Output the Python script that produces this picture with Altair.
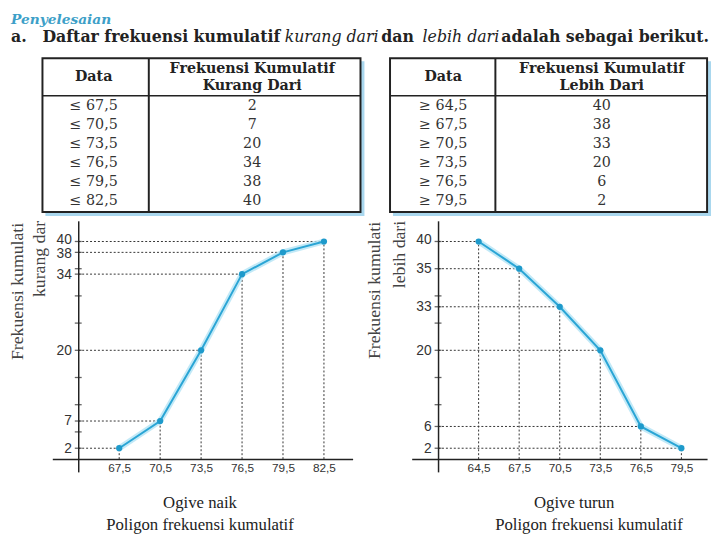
import altair as alt
import pandas as pd

# ---------------- data ----------------
# tables
tbl_data_kurang = ["≤ 67,5", "≤ 70,5", "≤ 73,5", "≤ 76,5", "≤ 79,5", "≤ 82,5"]
tbl_fk_kurang = [2, 7, 20, 34, 38, 40]
tbl_data_lebih = ["≥ 64,5", "≥ 67,5", "≥ 70,5", "≥ 73,5", "≥ 76,5", "≥ 79,5"]
tbl_fk_lebih = [40, 38, 33, 20, 6, 2]

# ogive naik (as drawn)
x_naik = [67.5, 70.5, 73.5, 76.5, 79.5, 82.5]
y_naik = [2, 7, 20, 34, 38, 40]
ylab_naik = ["2", "7", "20", "34", "38", "40"]
ticks_naik = [2, 5, 7, 10, 15, 20, 25, 30, 34, 35, 38, 40]

# ogive turun (as drawn: point heights, labels as printed)
x_turun = [64.5, 67.5, 70.5, 73.5, 76.5, 79.5]
y_turun = [40, 35, 28, 20, 6, 2]
ylab_turun = ["40", "35", "33", "20", "6", "2"]
ticks_turun = [2, 6, 10, 15, 20, 25, 28, 30, 35, 40]

header_parts = ["a.", "Daftar frekuensi kumulatif", "kurang dari", "dan", "lebih dari",
                "adalah sebagai berikut."]
header_italic = [False, False, True, False, True, False]
header_x = [0, 32, 278, 376, 418, 498]

SERIF = "Liberation Serif"
WIDE_SERIF = "DejaVu Serif"
SANS = "Liberation Sans"
one = pd.DataFrame({"k": [0]})


def spacer(w, h):
    return alt.Chart(one).mark_text(text="").properties(width=w, height=h)


# ---------------- header ----------------
hdr_layers = [
    alt.Chart(one).mark_text(align="left", baseline="top", font=WIDE_SERIF, fontSize=14,
                             fontStyle="italic", fontWeight="bold", color="#3d9fc8").encode(
        x=alt.value(0), y=alt.value(0), text=alt.value("Penyelesaian"))
]
for txt, it, px in zip(header_parts, header_italic, header_x):
    hdr_layers.append(
        alt.Chart(one).mark_text(align="left", baseline="middle", font=WIDE_SERIF, fontSize=16,
                                 fontStyle="italic" if it else "normal",
                                 fontWeight="normal" if it else "bold", color="#222").encode(
            x=alt.value(px), y=alt.value(24), text=alt.value(txt)))
header = alt.layer(*hdr_layers).properties(width=704, height=40)


# ---------------- tables ----------------
def table(data_col, fk_col, head2, w, h, xc1, xc2, xdiv):
    df = pd.DataFrame({"i": list(range(len(data_col))), "d": data_col,
                       "f": [str(v) for v in fk_col]})
    first, step = 48.5, 19.2
    yscale = alt.Scale(domain=[-first / step, (h - first) / step], reverse=True, nice=False, zero=False)
    shadow = alt.Chart(one).mark_rect(color="#a9d7ee").encode(
        x=alt.value(3), x2=alt.value(w + 4), y=alt.value(3), y2=alt.value(h + 4))
    box = alt.Chart(one).mark_rect(fill="white", stroke="#222", strokeWidth=2).encode(
        x=alt.value(0), x2=alt.value(w), y=alt.value(0), y2=alt.value(h))
    hsep = alt.Chart(one).mark_rule(color="#222", strokeWidth=1.5).encode(
        x=alt.value(0), x2=alt.value(w), y=alt.value(38))
    vsep = alt.Chart(one).mark_rule(color="#222", strokeWidth=2).encode(
        x=alt.value(xdiv), y=alt.value(0), y2=alt.value(h))
    hstyle = dict(font=WIDE_SERIF, fontSize=14.5, fontWeight="bold", color="#222", baseline="middle")
    h1 = alt.Chart(one).mark_text(**hstyle).encode(x=alt.value(xc1), y=alt.value(19), text=alt.value("Data"))
    h2 = alt.Chart(one).mark_text(**hstyle).encode(x=alt.value(xc2), y=alt.value(11),
                                                   text=alt.value("Frekuensi Kumulatif"))
    h3 = alt.Chart(one).mark_text(**hstyle).encode(x=alt.value(xc2), y=alt.value(28), text=alt.value(head2))
    rstyle = dict(font=WIDE_SERIF, fontSize=14.5, color="#333", baseline="middle")
    c1 = alt.Chart(df).mark_text(**rstyle).encode(
        x=alt.value(xc1), y=alt.Y("i:Q", scale=yscale, axis=None), text="d:N")
    c2 = alt.Chart(df).mark_text(**rstyle).encode(
        x=alt.value(xc2), y=alt.Y("i:Q", scale=yscale, axis=None), text="f:N")
    return alt.layer(shadow, box, hsep, vsep, h1, h2, h3, c1, c2).properties(width=w, height=h)


tblL = table(tbl_data_kurang, tbl_fk_kurang, "Kurang Dari", 323, 156, 52, 213, 108)
tblR = table(tbl_data_lebih, tbl_fk_lebih, "Lebih Dari", 322, 156, 54, 215, 107)


# ---------------- ogives ----------------
def label_expr(vals, labs):
    e = "datum.label"
    for v, l in zip(vals, labs):
        e = f"datum.value == {v} ? '{l}' : ({e})"
    return e


def ogive(xs, ys, ylabs, ticks, axis_x, xdom, ydom, w, h, titles, title_pos, captions, cap_pos):
    df = pd.DataFrame({"x": xs, "y": ys, "ax": [axis_x] * len(xs), "zero": [0] * len(xs)})
    xs_ = alt.Scale(domain=xdom, nice=False, zero=False)
    ys_ = alt.Scale(domain=ydom, nice=False, zero=False)
    x_off = -(axis_x - xdom[0]) / (xdom[1] - xdom[0]) * w
    y_off = -(0 - ydom[0]) / (ydom[1] - ydom[0]) * h
    xaxis = alt.Axis(title=None, values=xs, ticks=False, tickSize=0, grid=False, offset=y_off,
                     labelExpr="replace(format(datum.value, '.1f'), '.', ',')", labelOverlap=False,
                     labelFont=SANS, labelFontSize=12, labelColor="#333", labelPadding=4,
                     domainColor="#222", domainWidth=1.5)
    yaxis = alt.Axis(title=None, values=ys, ticks=False, tickSize=0, grid=False, offset=x_off,
                     labelExpr=label_expr(ys, ylabs), labelOverlap=False, labelFont=SANS,
                     labelFontSize=14, labelColor="#333", labelPadding=7, domainColor="#222",
                     domainWidth=1.5,
                     labelOffset={"condition": [{"test": "datum.value == 40", "value": -1.5},
                                                {"test": "datum.value == 38", "value": 1.5}],
                                  "value": 0})
    X = lambda f: alt.X(f, scale=xs_, axis=xaxis)
    Y = lambda f: alt.Y(f, scale=ys_, axis=yaxis)
    base = alt.Chart(df)
    dash = dict(strokeDash=[2, 2], color="#333", strokeWidth=1)
    hline = base.mark_rule(**dash).encode(x=X("ax:Q"), x2="x", y=Y("y:Q"))
    vline = base.mark_rule(**dash).encode(x=X("x:Q"), y=Y("zero:Q"), y2="y")
    tdf = pd.DataFrame({"t": ticks, "ax": [axis_x] * len(ticks)})
    tk = alt.Chart(tdf).mark_tick(orient="horizontal", size=7, thickness=1.3, color="#222").encode(
        x=X("ax:Q"), y=Y("t:Q"))
    glow = base.mark_line(color="#b3e4f5", strokeWidth=6, opacity=0.8).encode(x=X("x:Q"), y=Y("y:Q"))
    line = base.mark_line(color="#2aa5d5", strokeWidth=2).encode(x=X("x:Q"), y=Y("y:Q"))
    pts = base.mark_circle(size=40, color="#1e9acb", opacity=1).encode(x=X("x:Q"), y=Y("y:Q"))
    layers = [hline, vline, tk, glow, line, pts]
    for t, (px, py) in zip(titles, title_pos):
        layers.append(alt.Chart(one).mark_text(angle=270, align="right", baseline="middle", font=SERIF,
                                               fontSize=18, color="#444").encode(
            x=alt.value(px), y=alt.value(py), text=alt.value(t)))
    for t, (px, py) in zip(captions, cap_pos):
        layers.append(alt.Chart(one).mark_text(align="center", baseline="middle", font=SERIF,
                                               fontSize=17, color="#222").encode(
            x=alt.value(px), y=alt.value(py), text=alt.value(t)))
    return alt.layer(*layers).properties(width=w, height=h)


ydom = [-2.35, 43.8]
ogL = ogive(x_naik, y_naik, ylab_naik, ticks_naik, 64.5, [62.6, 84.6], ydom, 305, 255,
            ["Frekuensi kumulati", "kurang dar"], [(-35, 2), (-12, 0)],
            ["Ogive naik", "Poligon frekuensi kumulatif"], [(150, 287), (150, 309)])
ogR = ogive(x_turun, y_turun, ylab_turun, ticks_turun, 61.5, [59.55, 81.4], ydom, 300, 255,
            ["Frekuensi kumulati", "lebih dari"], [(-37, 1), (-12, 0)],
            ["Ogive turun", "Poligon frekuensi kumulatif"], [(165, 287), (180, 309)])

row2 = alt.hconcat(spacer(32, 156), tblL, spacer(30, 156), tblR, spacing=0, bounds="flush")
row3 = alt.hconcat(spacer(42, 255), ogL, spacer(60, 255), ogR, spacing=0, bounds="flush")

chart = alt.vconcat(header, row2, row3, spacing=3).properties(
    padding=0, background="white").configure_view(stroke="transparent")

chart.save("out.html", embed_options={"renderer": "svg", "actions": False})
